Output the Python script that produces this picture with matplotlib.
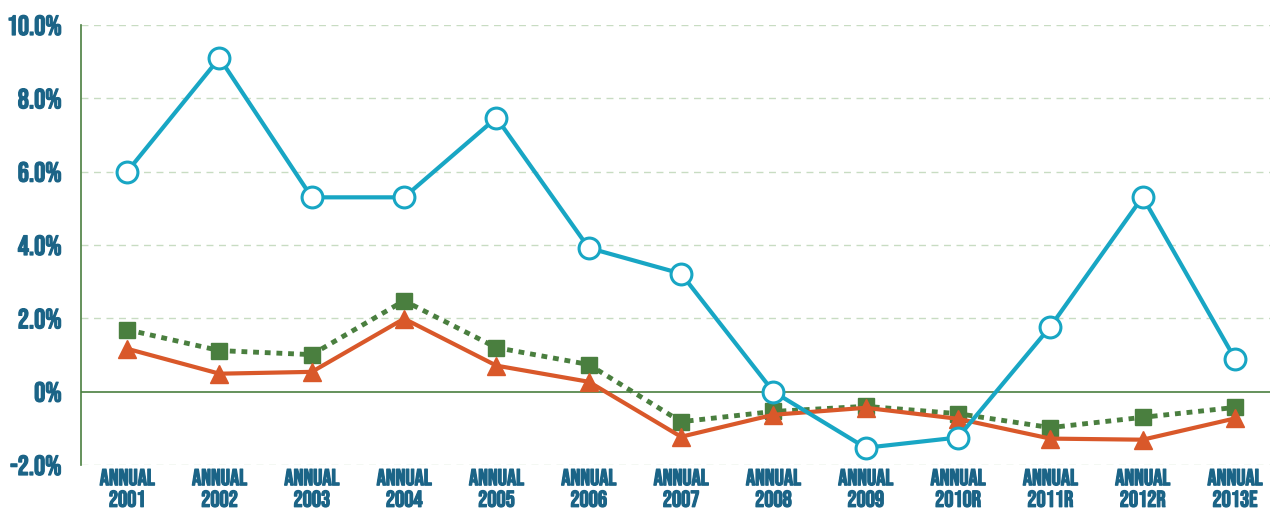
import matplotlib
matplotlib.use("Agg")
import matplotlib.pyplot as plt
import matplotlib.patheffects as pe
from matplotlib.ticker import FuncFormatter

# data (percent)
labels = ["ANNUAL\n2001", "ANNUAL\n2002", "ANNUAL\n2003", "ANNUAL\n2004", "ANNUAL\n2005",
          "ANNUAL\n2006", "ANNUAL\n2007", "ANNUAL\n2008", "ANNUAL\n2009", "ANNUAL\n2010R",
          "ANNUAL\n2011R", "ANNUAL\n2012R", "ANNUAL\n2013E"]
blue_vals = [6.0, 9.1, 5.3, 5.3, 7.47, 3.92, 3.22, 0.0, -1.53, -1.25, 1.77, 5.31, 0.9]
green_vals = [1.69, 1.12, 1.01, 2.48, 1.2, 0.74, -0.82, -0.54, -0.4, -0.6, -0.98, -0.7, -0.43]
orange_vals = [1.17, 0.49, 0.54, 1.99, 0.71, 0.27, -1.23, -0.63, -0.44, -0.74, -1.28, -1.31, -0.73]
yticks = [-2, 0, 2, 4, 6, 8, 10]

text_col = "#1b6487"
green = "#4a7f3f"
plt.rcParams['font.family'] = ['Bebas Neue', 'DejaVu Sans']

fig = plt.figure(figsize=(12.7, 5.13), dpi=100)
ax = fig.add_axes([81/1270, 1 - 465/513, (1270-81)/1270, (465-25)/513])

x = list(range(len(labels)))

# dashed gridlines, solid zero line
for t in yticks:
    if t == 0:
        continue
    ax.axhline(t, color="#c8dcc2", lw=1, ls=(0, (5, 4)), zorder=0)
ax.axhline(0, color=green, lw=1.2, zorder=1)

ax.plot(x, green_vals, color=green, lw=3.5, ls=(0, (1.2, 1.2)), marker="s", ms=11,
        markerfacecolor=green, markeredgecolor=green, zorder=3)
ax.plot(x, orange_vals, color="#d9582a", lw=3, marker="^", ms=13,
        markerfacecolor="#d9582a", markeredgecolor="#d9582a", zorder=4)
ax.plot(x, blue_vals, color="#18a6c4", lw=3, marker="o", ms=15,
        markerfacecolor="white", markeredgecolor="#18a6c4", markeredgewidth=2.2, zorder=5)

ax.set_xlim(-0.5, 12.38)
ax.set_ylim(-2, 10)
ax.set_yticks(yticks)
ax.yaxis.set_major_formatter(FuncFormatter(lambda v, p: "0%" if v == 0 else f"{v:.1f}%"))
ax.set_xticks(x)
ax.set_xticklabels(labels, linespacing=1.35)

for s in ["top", "right", "bottom"]:
    ax.spines[s].set_visible(False)
ax.spines["left"].set_color(green)
ax.spines["left"].set_linewidth(1.2)
ax.tick_params(axis="both", length=0, colors=text_col)
ax.tick_params(axis="y", pad=14)
ax.tick_params(axis="x", pad=3)
bold = [pe.withStroke(linewidth=0.9, foreground=text_col)]
for lab in ax.get_yticklabels():
    lab.set_fontsize(20)
    lab.set_path_effects(bold)
for lab in ax.get_xticklabels():
    lab.set_fontsize(16.5)
    lab.set_path_effects(bold)

fig.savefig("out.png", dpi=100)
